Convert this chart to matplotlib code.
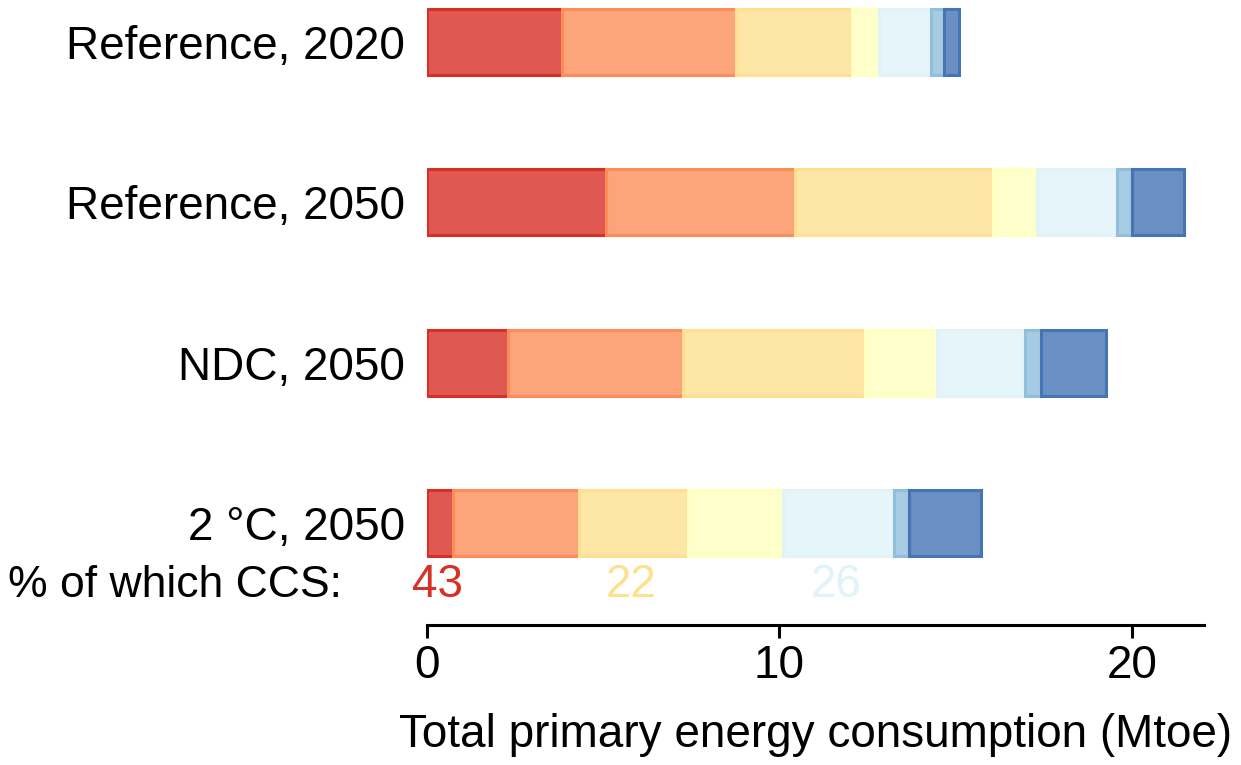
import matplotlib.pyplot as plt
import numpy as np

plt.rcParams["font.family"] = ["Liberation Sans", "DejaVu Sans"]

# Scenarios, top to bottom
scenarios = ["Reference, 2020", "Reference, 2050", "NDC, 2050", "2 \u00b0C, 2050"]

# Primary energy by source (Mtoe), one list per stacked segment
seg1 = [3.83, 5.07, 2.29, 0.75]
seg2 = [4.95, 5.36, 4.98, 3.55]
seg3 = [3.28, 5.63, 5.15, 3.11]
seg4 = [0.77, 1.26, 2.05, 2.68]
seg5 = [1.46, 2.25, 2.50, 3.17]
seg6 = [0.39, 0.45, 0.46, 0.43]
seg7 = [0.42, 1.46, 1.84, 2.03]
segments = [seg1, seg2, seg3, seg4, seg5, seg6, seg7]

colors = ["#d73027", "#fc8d59", "#fee090", "#ffffbf", "#e0f3f8", "#91bfdb", "#4575b4"]

# CCS shares shown under the 2 degree bar
ccs_labels = ["43", "22", "26"]
ccs_xpos = [0.3, 5.8, 11.6]
ccs_colors = ["#d73027", "#fee090", "#e0f3f8"]

fig = plt.figure(figsize=(12.41, 7.65), dpi=100)
ax = fig.add_axes([427 / 1241, 1 - 625 / 765, (1204 - 427) / 1241, 625 / 765])
fsize = 33

ypos = np.arange(len(scenarios))[::-1]
left = np.zeros(len(scenarios))
for vals, c in zip(segments, colors):
    ax.barh(ypos, vals, left=left, height=0.41,
            facecolor=plt.matplotlib.colors.to_rgba(c, 0.8),
            edgecolor=c, linewidth=2.2)
    left += np.array(vals)

ax.set_yticks(ypos)
ax.set_yticklabels(scenarios, fontsize=fsize)
ax.tick_params(axis="y", length=0, pad=16)

ax.set_xlim(0, 22.05)
ax.set_ylim(-0.636, 3.262)
ax.set_xticks([0, 10, 20])
ax.tick_params(axis="x", labelsize=fsize, length=9, width=2.2, pad=5)
ax.set_xlabel("Total primary energy consumption (Mtoe)", fontsize=fsize, labelpad=18)

for side in ["top", "right", "left"]:
    ax.spines[side].set_visible(False)
ax.spines["bottom"].set_linewidth(2.2)

ax.text(-2.42, -0.387, "% of which CCS:", fontsize=32, ha="right", va="center", clip_on=False)
for lab, x, c in zip(ccs_labels, ccs_xpos, ccs_colors):
    ax.text(x, -0.387, lab, fontsize=fsize, color=c, ha="center", va="center")

plt.savefig("out.png", dpi=100)
